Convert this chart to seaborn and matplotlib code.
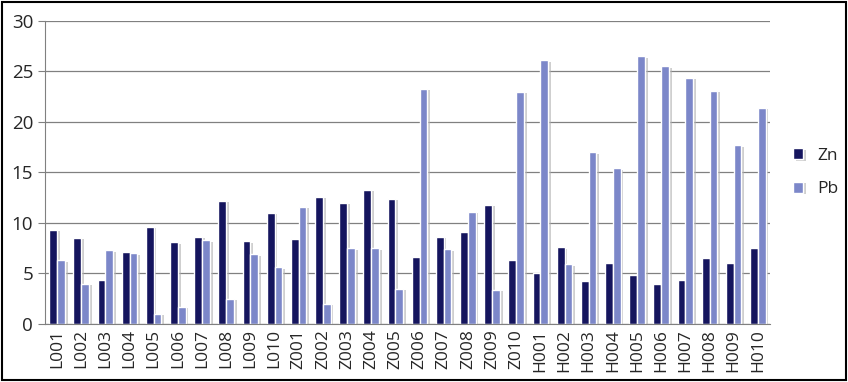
import numpy as np
import pandas as pd
import matplotlib
matplotlib.use("Agg")
import matplotlib.pyplot as plt
import matplotlib.patheffects as pe
import seaborn as sns

# sample ids and concentrations
samples = (["L%03d" % i for i in range(1, 11)]
           + ["Z%03d" % i for i in range(1, 11)]
           + ["H%03d" % i for i in range(1, 11)])
zn = [9.3, 8.5, 4.4, 7.1, 9.6, 8.1, 8.6, 12.2, 8.2, 11.0,
      8.4, 12.6, 12.0, 13.3, 12.4, 6.6, 8.6, 9.1, 11.8, 6.3,
      5.0, 7.6, 4.3, 6.0, 4.8, 4.0, 4.4, 6.5, 6.0, 7.5]
pb = [6.3, 4.0, 7.3, 7.0, 1.0, 1.7, 8.3, 2.5, 6.9, 5.6,
      11.6, 2.0, 7.5, 7.5, 3.5, 23.3, 7.4, 11.1, 3.4, 23.0,
      26.1, 5.9, 17.0, 15.4, 26.5, 25.5, 24.4, 23.1, 17.7, 21.4]

df = pd.DataFrame({"Sample": samples * 2,
                   "Value": zn + pb,
                   "Metal": ["Zn"] * len(zn) + ["Pb"] * len(pb)})

sns.set_style("white")
plt.rcParams['font.family'] = ['Open Sans', 'DejaVu Sans']

fig = plt.figure(figsize=(8.48, 3.82), dpi=100)
ax = fig.add_axes([0.053, 0.152, 0.855, 0.793])

sns.barplot(data=df, x="Sample", y="Value", hue="Metal", ax=ax,
            palette={"Zn": "#15155e", "Pb": "#7c87c9"}, width=0.64,
            saturation=1, dodge=True)

# soft drop shadow like the original 3D-ish excel bars
for bar in ax.patches:
    bar.set_path_effects([pe.SimplePatchShadow(offset=(2, -1), shadow_rgbFace="#b0b0b0", alpha=0.6),
                          pe.Normal()])

ax.set_ylim(0, 30)
ax.set_xlim(-0.5, len(samples) - 0.5)
ax.set_yticks(range(0, 31, 5))
ax.yaxis.grid(True, color="#808080", linewidth=0.9)
ax.set_axisbelow(True)
ax.set_xlabel("")
ax.set_ylabel("")
ax.tick_params(axis="y", labelsize=13.5, length=5, color="#808080", left=True)
ax.tick_params(axis="x", labelsize=12.5, length=0, rotation=90)
ax.set_xticks(np.arange(-0.5, len(samples), 1), minor=True)
ax.tick_params(axis="x", which="minor", length=5, color="#808080")
for s in ["top", "right"]:
    ax.spines[s].set_visible(False)
for s in ["left", "bottom"]:
    ax.spines[s].set_color("#808080")

leg = ax.legend(loc="center left", bbox_to_anchor=(1.01, 0.5), frameon=False,
                fontsize=12.5, handlelength=0.6, handleheight=0.6, labelspacing=1.0)

# outer frame like the pasted chart
fig.patches.append(plt.Rectangle((0.002, 0.004), 0.996, 0.992, transform=fig.transFigure,
                                 fill=False, edgecolor="black", linewidth=1.5))

fig.savefig("out.png", dpi=100)
